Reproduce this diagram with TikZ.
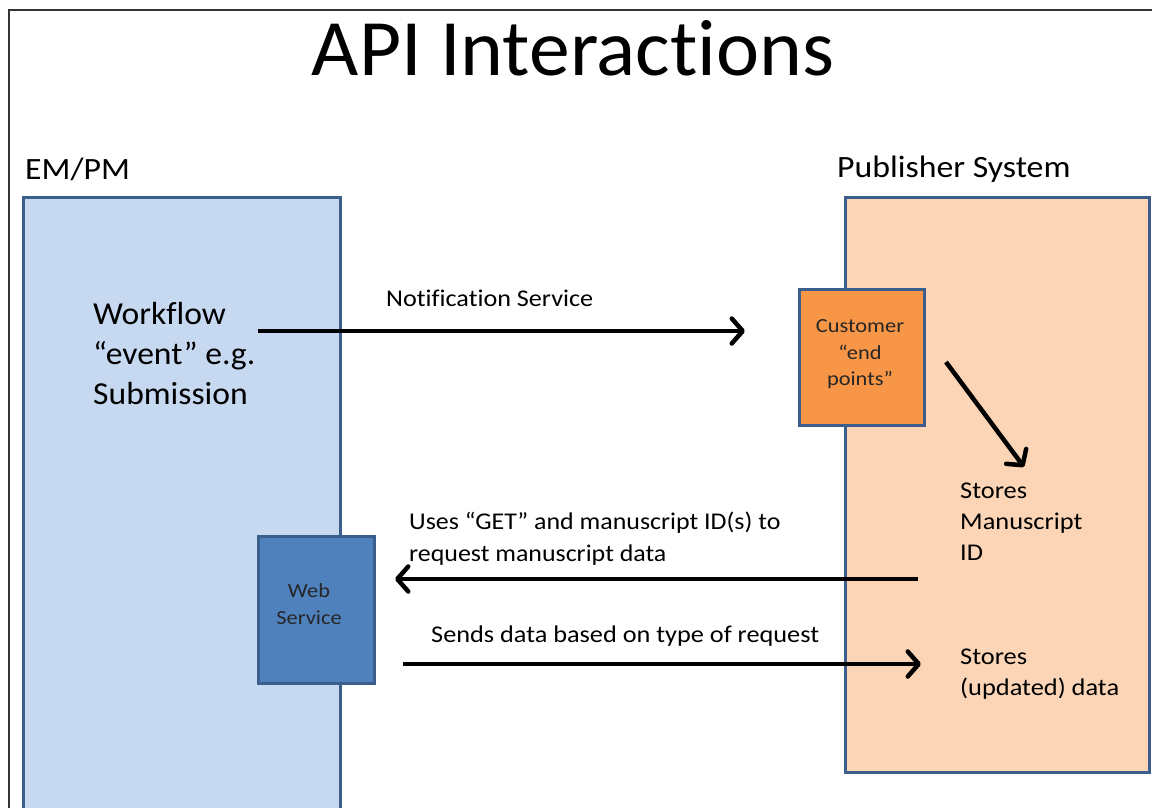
\documentclass[tikz,border=0pt]{standalone}
\usepackage{fontspec}
\setmainfont[Ligatures=NoCommon]{Carlito}
\usetikzlibrary{arrows.meta}
\definecolor{emfill}{HTML}{C6D9F1}
\definecolor{pubfill}{HTML}{FBD5B5}
\definecolor{custfill}{HTML}{F79646}
\definecolor{webfill}{HTML}{4F81BD}
\definecolor{edge}{HTML}{3B5E8C}
\definecolor{frameline}{HTML}{333333}
% set a font size with a horizontal widening of the glyphs
\newcommand{\wfont}[3]{\fontsize{#1}{#2}\selectfont\addfontfeatures{FakeStretch=#3}}
\begin{document}
\begin{tikzpicture}[x=1pt,y=-1pt,
  sysbox/.style={draw=edge,line width=3pt,rectangle},
  lbl/.style={inner sep=0pt,align=left,text=black},
  boxtext/.style={inner sep=0pt,align=center,text=black!85,font=\wfont{20}{26.5}{1.12}},
  arr/.style={line width=4.5pt,-{Straight Barb[length=11pt,width=25pt,round]}}
]
\useasboundingbox (0,0) rectangle (1152,807);
% page frame
\draw[frameline,line width=1.5pt] (9,810) -- (9,10) -- (1160,10);

% title
\node[lbl,font=\wfont{80}{90}{1.02}] (title) at (573,48) {API Interactions};

% system headings
\node[lbl,anchor=west,font=\wfont{31}{36}{1.09}] (empm) at (25,169) {EM/PM};
\node[lbl,anchor=west,font=\wfont{31}{36}{1.09}] (pub) at (837,169) {Publisher System};

% system boxes
\path[sysbox,fill=emfill] (23,197) rectangle (340,810);
\path[sysbox,fill=pubfill] (845,197) rectangle (1149,772);

% inner service boxes
\node[sysbox,fill=custfill,minimum width=125pt,minimum height=136pt] (cust) at (861.5,357) {};
\node[sysbox,fill=webfill,minimum width=116pt,minimum height=147pt] (web) at (316,609.5) {};
\node[boxtext] (custtxt) at (860,354.5) {Customer\\\textquotedblleft end\\points\textquotedblright};
\node[boxtext] (webtxt) at (309,604) {Web\\Service};

% texts inside the systems
\node[lbl,anchor=west,font=\wfont{32}{40}{1.05}] (wf) at (93,353) {Workflow\\\textquotedblleft event\textquotedblright{} e.g.\\Submission};
\node[lbl,anchor=west,font=\wfont{24}{31}{1.10}] (sid) at (960,522) {Stores\\Manuscript\\ID};
\node[lbl,anchor=west,font=\wfont{24}{31}{1.10}] (sdata) at (960,674.5) {Stores\\(updated) data};

% arrow labels
\node[lbl,anchor=west,font=\wfont{24}{31}{1.09}] (lnote) at (386,298) {Notification Service};
\node[lbl,anchor=west,font=\wfont{24}{32}{1.08}] (lget) at (409,539) {Uses \textquotedblleft GET\textquotedblright{} and manuscript ID(s) to\\request manuscript data};
\node[lbl,anchor=west,font=\wfont{24}{31}{1.095}] (lsend) at (431,636) {Sends data based on type of request};

% connector end points
\coordinate (n1) at (258,331);
\coordinate (n2) at (745,331);
\coordinate (d1) at (946,362);
\coordinate (d2) at (1024,467);
\coordinate (g1) at (918,579);
\coordinate (g2) at (395,579);
\coordinate (s1) at (403,664);
\coordinate (s2) at (921,664);

\draw[arr] (n1) -- (n2);
\draw[arr] (d1) -- (d2);
\draw[arr] (g1) -- (g2);
\draw[arr] (s1) -- (s2);
\end{tikzpicture}
\end{document}
